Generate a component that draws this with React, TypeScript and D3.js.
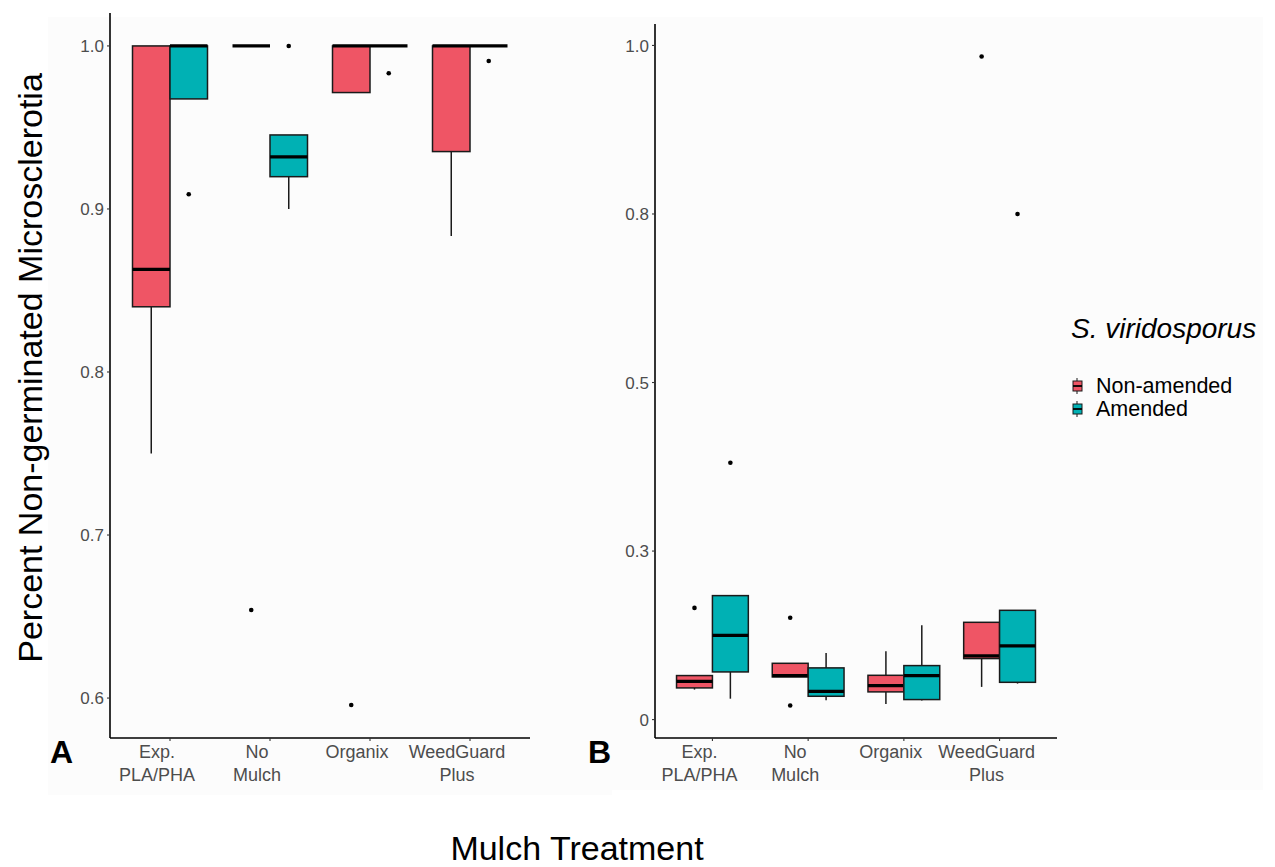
import React, { useEffect, useRef } from 'react';
import * as d3 from 'd3';

// mulch treatments (x categories)
const categories = ['Exp.\nPLA/PHA', 'No\nMulch', 'Organix', 'WeedGuard\nPlus'];
const groups = ['Non-amended', 'Amended'];
const groupColors = ['#EF5565', '#00B1B4'];

// box stats per treatment: [lower whisker, q1, median, q3, upper whisker]
const aNonAmended = [
  [0.75, 0.84, 0.863, 1.0, 1.0],
  [1.0, 1.0, 1.0, 1.0, 1.0],
  [0.9714, 0.9714, 1.0, 1.0, 1.0],
  [0.8834, 0.9352, 1.0, 1.0, 1.0],
];
const aAmended = [
  [0.9675, 0.9675, 1.0, 1.0, 1.0],
  [0.9, 0.9198, 0.9319, 0.9454, 0.9454],
  [1.0, 1.0, 1.0, 1.0, 1.0],
  [1.0, 1.0, 1.0, 1.0, 1.0],
];
const aNonAmendedOut = [[], [0.654], [0.5957], []];
const aAmendedOut = [[0.909], [1.0], [0.9832], [0.9908]];

const bNonAmended = [
  [0.0445, 0.047, 0.0568, 0.0653, 0.0653],
  [0.0633, 0.0633, 0.0653, 0.0835, 0.0835],
  [0.0233, 0.0411, 0.0504, 0.0657, 0.1013],
  [0.0485, 0.0905, 0.0945, 0.1443, 0.1443],
];
const bAmended = [
  [0.031, 0.0707, 0.125, 0.1839, 0.1839],
  [0.0286, 0.0346, 0.042, 0.0767, 0.0989],
  [0.0282, 0.0297, 0.0653, 0.0801, 0.1398],
  [0.0534, 0.0553, 0.1093, 0.1621, 0.1621],
];
const bNonAmendedOut = [[0.1657], [0.151, 0.0208], [], [0.9837]];
const bAmendedOut = [[0.381], [], [], [0.75]];

const aTicks = [0.6, 0.7, 0.8, 0.9, 1.0];
const bTicks = [0, 0.25, 0.5, 0.75, 1.0];

type Panel = {
  left: number; right: number; top: number; bottom: number;
  domain: [number, number];
  ticks: number[];
  fmt: (v: number) => string;
  stats: number[][][];
  outliers: number[][][];
  label: string; labelX: number;
};

const panels: Panel[] = [
  {
    left: 110, right: 530, top: 13, bottom: 738,
    domain: [0.5755, 1.0202], ticks: aTicks,
    fmt: (v) => d3.format('.1f')(v),
    stats: [aNonAmended, aAmended], outliers: [aNonAmendedOut, aAmendedOut],
    label: 'A', labelX: 50,
  },
  {
    left: 655, right: 1057, top: 24, bottom: 738,
    domain: [-0.0273, 1.0318], ticks: bTicks,
    fmt: (v) => (v === 0 ? '0' : d3.format('.1f')(v)),
    stats: [bNonAmended, bAmended], outliers: [bNonAmendedOut, bAmendedOut],
    label: 'B', labelX: 588,
  },
];

const FONT = '"Liberation Sans", Arial, sans-serif';

const App = () => {
  const svgRef = useRef<SVGSVGElement>(null);

  useEffect(() => {
    const svg = d3.select(svgRef.current);
    svg.selectAll('*').remove();

    svg.append('rect').attr('width', 1275).attr('height', 867).attr('fill', '#ffffff');
    // light panel backgrounds
    svg.append('rect').attr('x', 48).attr('y', 17).attr('width', 564).attr('height', 778).attr('fill', '#fcfcfc');
    svg.append('rect').attr('x', 600).attr('y', 17).attr('width', 663).attr('height', 773).attr('fill', '#fcfcfc');

    panels.forEach((p) => {
      const x = d3.scaleLinear().domain([0.4, categories.length + 0.6]).range([p.left, p.right]);
      const y = d3.scaleLinear().domain(p.domain).range([p.bottom, p.top]);
      const unit = x(2) - x(1);
      const boxW = (unit * 0.75) / 2;
      const g = svg.append('g');

      // boxes
      p.stats.forEach((series, gi) => {
        series.forEach((s, ci) => {
          const cx = x(ci + 1) + (gi === 0 ? -boxW / 2 : boxW / 2);
          const [lo, q1, med, q3, hi] = s;
          g.append('line').attr('x1', cx).attr('x2', cx).attr('y1', y(hi)).attr('y2', y(q3))
            .attr('stroke', '#1a1a1a').attr('stroke-width', 1.5);
          g.append('line').attr('x1', cx).attr('x2', cx).attr('y1', y(q1)).attr('y2', y(lo))
            .attr('stroke', '#1a1a1a').attr('stroke-width', 1.5);
          g.append('rect')
            .attr('x', cx - boxW / 2).attr('y', y(q3))
            .attr('width', boxW).attr('height', Math.max(0, y(q1) - y(q3)))
            .attr('fill', groupColors[gi]).attr('stroke', '#1a1a1a').attr('stroke-width', 1.5);
          g.append('line').attr('x1', cx - boxW / 2).attr('x2', cx + boxW / 2)
            .attr('y1', y(med)).attr('y2', y(med))
            .attr('stroke', '#000').attr('stroke-width', 3.2);
          p.outliers[gi][ci].forEach((v) => {
            g.append('circle').attr('cx', cx).attr('cy', y(v)).attr('r', 2.3).attr('fill', '#000');
          });
        });
      });

      // y axis
      g.append('line').attr('x1', p.left).attr('x2', p.left).attr('y1', p.top).attr('y2', p.bottom)
        .attr('stroke', '#000').attr('stroke-width', 1.6);
      p.ticks.forEach((t) => {
        g.append('line').attr('x1', p.left - 3).attr('x2', p.left).attr('y1', y(t)).attr('y2', y(t))
          .attr('stroke', '#333').attr('stroke-width', 1.1);
        g.append('text').attr('x', p.left - 6).attr('y', y(t)).attr('dy', '0.36em')
          .attr('text-anchor', 'end').attr('font-family', FONT).attr('font-size', 17)
          .attr('fill', '#4d4d4d').text(p.fmt(t));
      });

      // x axis
      g.append('line').attr('x1', p.left).attr('x2', p.right).attr('y1', p.bottom).attr('y2', p.bottom)
        .attr('stroke', '#000').attr('stroke-width', 1.6);
      categories.forEach((c, ci) => {
        const tx = x(ci + 1);
        g.append('line').attr('x1', tx).attr('x2', tx).attr('y1', p.bottom).attr('y2', p.bottom + 3)
          .attr('stroke', '#333').attr('stroke-width', 1.1);
        const t = g.append('text').attr('text-anchor', 'middle').attr('font-family', FONT)
          .attr('font-size', 18).attr('fill', '#4d4d4d');
        c.split('\n').forEach((line, li) => {
          t.append('tspan').attr('x', tx - 13).attr('y', p.bottom + 20 + li * 23).text(line);
        });
      });

      // panel letter
      svg.append('text').attr('x', p.labelX).attr('y', p.bottom + 25)
        .attr('font-family', FONT).attr('font-weight', 'bold').attr('font-size', 32)
        .attr('fill', '#000').text(p.label);
    });

    // axis titles
    svg.append('text').attr('transform', 'translate(42,368) rotate(-90)')
      .attr('text-anchor', 'middle').attr('font-family', FONT).attr('font-size', 34)
      .text('Percent Non-germinated Microsclerotia');
    svg.append('text').attr('x', 577).attr('y', 860)
      .attr('text-anchor', 'middle').attr('font-family', FONT).attr('font-size', 34)
      .text('Mulch Treatment');

    // legend
    const legend = svg.append('g');
    legend.append('text').attr('x', 1071).attr('y', 338)
      .attr('font-family', FONT).attr('font-style', 'italic').attr('font-size', 28)
      .text('S. viridosporus');
    groups.forEach((name, gi) => {
      const cy = 386 + gi * 23;
      legend.append('line').attr('x1', 1077).attr('x2', 1077).attr('y1', cy - 8).attr('y2', cy + 8)
        .attr('stroke', '#1a1a1a').attr('stroke-width', 1);
      legend.append('rect').attr('x', 1073).attr('y', cy - 5).attr('width', 9).attr('height', 10)
        .attr('fill', groupColors[gi]).attr('stroke', '#1a1a1a').attr('stroke-width', 1);
      legend.append('line').attr('x1', 1073).attr('x2', 1082).attr('y1', cy).attr('y2', cy)
        .attr('stroke', '#000').attr('stroke-width', 1.8);
      legend.append('text').attr('x', 1096).attr('y', cy + 7)
        .attr('font-family', FONT).attr('font-size', 21.5).text(name);
    });
  }, []);

  return (
    <svg ref={svgRef} width={1275} height={867}
      style={{ position: 'absolute', left: 0, top: 0, display: 'block' }} />
  );
};

export default App;
